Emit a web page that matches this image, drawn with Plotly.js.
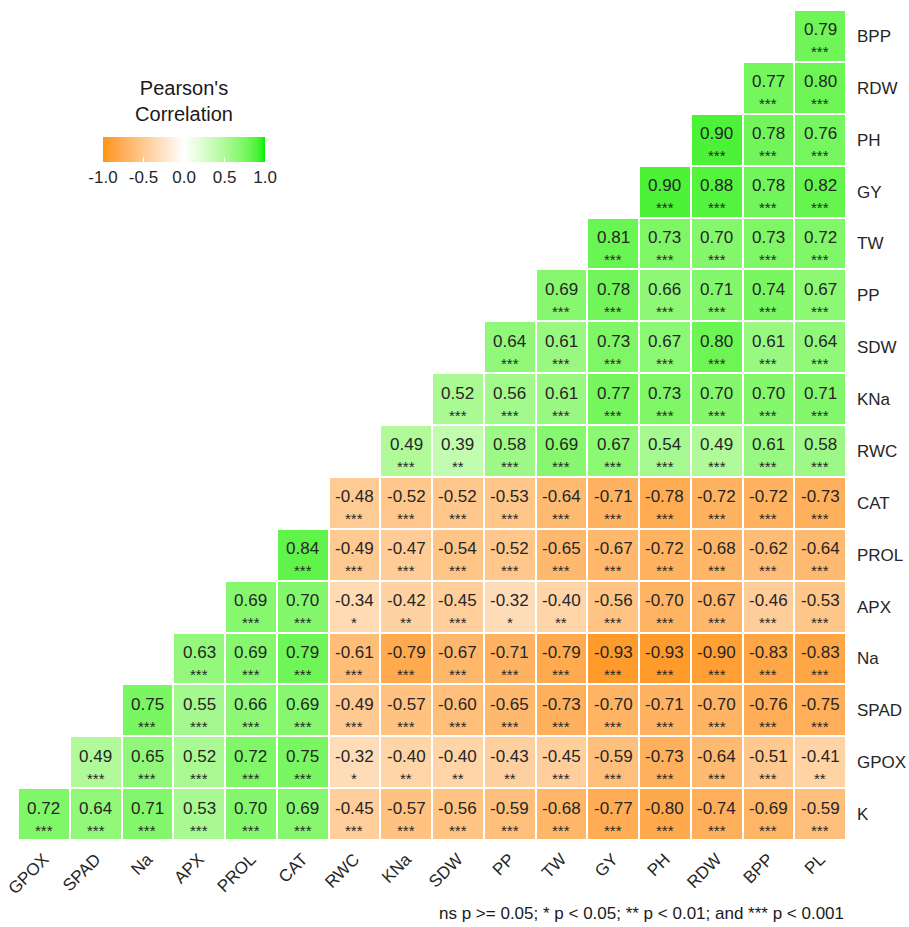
<!DOCTYPE html>
<html>
<head>
<meta charset="utf-8">
<script src="https://cdn.plot.ly/plotly-3.0.1.min.js"></script>
<style>
  html, body { margin: 0; padding: 0; background: #ffffff; }
  #chart { width: 909px; height: 927px; }
</style>
</head>
<body>
<div id="chart"></div>
<script>
// Variables along the bottom (columns) and along the right side (rows, bottom to top)
const xLabels = ['GPOX', 'SPAD', 'Na', 'APX', 'PROL', 'CAT', 'RWC', 'KNa', 'SDW', 'PP', 'TW', 'GY', 'PH', 'RDW', 'BPP', 'PL'];
const yLabels = ['K', 'GPOX', 'SPAD', 'Na', 'APX', 'PROL', 'CAT', 'RWC', 'KNa', 'SDW', 'PP', 'TW', 'GY', 'PH', 'RDW', 'BPP'];

// Pearson coefficients; row i starts at column i and runs to PL
const corr_K    = [0.72, 0.64, 0.71, 0.53, 0.70, 0.69, -0.45, -0.57, -0.56, -0.59, -0.68, -0.77, -0.80, -0.74, -0.69, -0.59];
const corr_GPOX = [0.49, 0.65, 0.52, 0.72, 0.75, -0.32, -0.40, -0.40, -0.43, -0.45, -0.59, -0.73, -0.64, -0.51, -0.41];
const corr_SPAD = [0.75, 0.55, 0.66, 0.69, -0.49, -0.57, -0.60, -0.65, -0.73, -0.70, -0.71, -0.70, -0.76, -0.75];
const corr_Na   = [0.63, 0.69, 0.79, -0.61, -0.79, -0.67, -0.71, -0.79, -0.93, -0.93, -0.90, -0.83, -0.83];
const corr_APX  = [0.69, 0.70, -0.34, -0.42, -0.45, -0.32, -0.40, -0.56, -0.70, -0.67, -0.46, -0.53];
const corr_PROL = [0.84, -0.49, -0.47, -0.54, -0.52, -0.65, -0.67, -0.72, -0.68, -0.62, -0.64];
const corr_CAT  = [-0.48, -0.52, -0.52, -0.53, -0.64, -0.71, -0.78, -0.72, -0.72, -0.73];
const corr_RWC  = [0.49, 0.39, 0.58, 0.69, 0.67, 0.54, 0.49, 0.61, 0.58];
const corr_KNa  = [0.52, 0.56, 0.61, 0.77, 0.73, 0.70, 0.70, 0.71];
const corr_SDW  = [0.64, 0.61, 0.73, 0.67, 0.80, 0.61, 0.64];
const corr_PP   = [0.69, 0.78, 0.66, 0.71, 0.74, 0.67];
const corr_TW   = [0.81, 0.73, 0.70, 0.73, 0.72];
const corr_GY   = [0.90, 0.88, 0.78, 0.82];
const corr_PH   = [0.90, 0.78, 0.76];
const corr_RDW  = [0.77, 0.80];
const corr_BPP  = [0.79];

// Significance level per cell (number of stars)
const sig_K    = [3, 3, 3, 3, 3, 3, 3, 3, 3, 3, 3, 3, 3, 3, 3, 3];
const sig_GPOX = [3, 3, 3, 3, 3, 1, 2, 2, 2, 3, 3, 3, 3, 3, 2];
const sig_SPAD = [3, 3, 3, 3, 3, 3, 3, 3, 3, 3, 3, 3, 3, 3];
const sig_Na   = [3, 3, 3, 3, 3, 3, 3, 3, 3, 3, 3, 3, 3];
const sig_APX  = [3, 3, 1, 2, 3, 1, 2, 3, 3, 3, 3, 3];
const sig_PROL = [3, 3, 3, 3, 3, 3, 3, 3, 3, 3, 3];
const sig_CAT  = [3, 3, 3, 3, 3, 3, 3, 3, 3, 3];
const sig_RWC  = [3, 2, 3, 3, 3, 3, 3, 3, 3];
const sig_KNa  = [3, 3, 3, 3, 3, 3, 3, 3];
const sig_SDW  = [3, 3, 3, 3, 3, 3, 3];
const sig_PP   = [3, 3, 3, 3, 3, 3];
const sig_TW   = [3, 3, 3, 3, 3];
const sig_GY   = [3, 3, 3, 3];
const sig_PH   = [3, 3, 3];
const sig_RDW  = [3, 3];
const sig_BPP  = [3];

const corrRows = [corr_K, corr_GPOX, corr_SPAD, corr_Na, corr_APX, corr_PROL, corr_CAT, corr_RWC,
                  corr_KNa, corr_SDW, corr_PP, corr_TW, corr_GY, corr_PH, corr_RDW, corr_BPP];
const sigRows = [sig_K, sig_GPOX, sig_SPAD, sig_Na, sig_APX, sig_PROL, sig_CAT, sig_RWC,
                 sig_KNa, sig_SDW, sig_PP, sig_TW, sig_GY, sig_PH, sig_RDW, sig_BPP];

const captionText = 'ns p >= 0.05; * p < 0.05; ** p < 0.01; and *** p < 0.001';
const FONT = 'Liberation Sans, Arial, Helvetica, sans-serif';

// Diverging palette interpolated in CIE Lab (low -> white -> high)
function hexToRgb(h) {
  return [parseInt(h.slice(1, 3), 16), parseInt(h.slice(3, 5), 16), parseInt(h.slice(5, 7), 16)];
}
function rgbToLab(rgb) {
  const lin = rgb.map(c => { c /= 255; return c <= 0.04045 ? c / 12.92 : Math.pow((c + 0.055) / 1.055, 2.4); });
  let X = (lin[0] * 0.4124 + lin[1] * 0.3576 + lin[2] * 0.1805) / 0.95047;
  let Y = (lin[0] * 0.2126 + lin[1] * 0.7152 + lin[2] * 0.0722);
  let Z = (lin[0] * 0.0193 + lin[1] * 0.1192 + lin[2] * 0.9505) / 1.08883;
  const f = t => t > 0.008856 ? Math.cbrt(t) : 7.787 * t + 16 / 116;
  const fx = f(X), fy = f(Y), fz = f(Z);
  return [116 * fy - 16, 500 * (fx - fy), 200 * (fy - fz)];
}
function labToRgb(lab) {
  const fy = (lab[0] + 16) / 116, fx = fy + lab[1] / 500, fz = fy - lab[2] / 200;
  const finv = t => t > 0.206893 ? t * t * t : (t - 16 / 116) / 7.787;
  const X = finv(fx) * 0.95047, Y = finv(fy), Z = finv(fz) * 1.08883;
  const lin = [
    X * 3.2406 + Y * -1.5372 + Z * -0.4986,
    X * -0.9689 + Y * 1.8758 + Z * 0.0415,
    X * 0.0557 + Y * -0.2040 + Z * 1.0570
  ];
  return lin.map(c => {
    c = c <= 0.0031308 ? 12.92 * c : 1.055 * Math.pow(c, 1 / 2.4) - 0.055;
    return Math.round(Math.max(0, Math.min(1, c)) * 255);
  });
}
function divergingScale(low, mid, high, n) {
  const L = rgbToLab(hexToRgb(low)), M = rgbToLab(hexToRgb(mid)), H = rgbToLab(hexToRgb(high));
  const out = [];
  for (let k = 0; k <= n; k++) {
    const t = k / n, v = -1 + 2 * t;
    const end = v < 0 ? L : H, a = Math.abs(v);
    const lab = M.map((m, i) => m + (end[i] - m) * a);
    const c = labToRgb(lab);
    out.push([t, 'rgb(' + c.join(',') + ')']);
  }
  return out;
}
const colorscale = divergingScale('#FF9410', '#FFFFFF', '#00F000', 40);

// Lower-triangle matrix (null elsewhere) and cell labels
const z = yLabels.map((_, i) => xLabels.map((_, j) => (j >= i ? corrRows[i][j - i] : null)));
const annotations = [];
yLabels.forEach((yl, i) => {
  corrRows[i].forEach((v, k) => {
    const xl = xLabels[i + k];
    annotations.push({
      x: xl, y: yl, xref: 'x', yref: 'y', showarrow: false,
      text: v.toFixed(2), yshift: 6,
      font: { family: FONT, size: 17, color: '#262626' }
    });
    annotations.push({
      x: xl, y: yl, xref: 'x', yref: 'y', showarrow: false,
      text: '*'.repeat(sigRows[i][k]), yshift: -16,
      font: { family: FONT, size: 15, color: '#262626' }
    });
  });
});
annotations.push({
  xref: 'paper', yref: 'paper', x: 1, y: -0.088, xanchor: 'right', yanchor: 'middle',
  showarrow: false, text: captionText,
  font: { family: FONT, size: 17, color: '#1a1a1a' }
});

const trace = {
  type: 'heatmap',
  x: xLabels,
  y: yLabels,
  z: z,
  zmin: -1, zmax: 1,
  colorscale: colorscale,
  xgap: 2, ygap: 2,
  hoverongaps: false,
  colorbar: {
    orientation: 'h',
    x: 0.2005, xanchor: 'center',
    y: 0.905, yanchor: 'top',
    len: 162, lenmode: 'pixels',
    thickness: 25, thicknessmode: 'pixels',
    outlinewidth: 0,
    xpad: 0, ypad: 0,
    tickvals: [-1, -0.5, 0, 0.5, 1],
    ticktext: ['-1.0', '-0.5', '0.0', '0.5', '1.0'],
    ticks: 'inside', ticklen: 5, tickcolor: '#ffffff', tickwidth: 1.5,
    tickfont: { family: FONT, size: 17, color: '#262626' },
    title: { text: "Pearson's<br>Correlation", side: 'top', font: { family: FONT, size: 20, color: '#1a1a1a' } }
  }
};

const layout = {
  width: 909, height: 927,
  margin: { l: 18, r: 63, t: 10, b: 87 },
  paper_bgcolor: '#ffffff', plot_bgcolor: '#ffffff',
  showlegend: false,
  xaxis: {
    type: 'category', range: [-0.5, 15.5], showgrid: false, zeroline: false, showline: false,
    ticks: '', tickangle: -45, ticklabelstandoff: 5,
    tickfont: { family: FONT, size: 17, color: '#262626' }
  },
  yaxis: {
    type: 'category', range: [-0.5, 15.5], side: 'right', showgrid: false, zeroline: false, showline: false,
    ticks: '', ticklabelstandoff: 10,
    tickfont: { family: FONT, size: 17, color: '#262626' }
  },
  annotations: annotations
};

Plotly.newPlot('chart', [trace], layout, { staticPlot: true, displayModeBar: false });
</script>
</body>
</html>
